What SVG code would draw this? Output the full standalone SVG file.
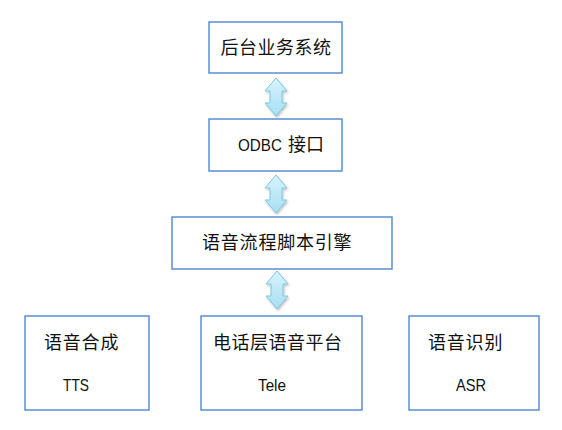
<svg xmlns="http://www.w3.org/2000/svg" width="562" height="430" viewBox="0 0 562 430">
<defs>
<linearGradient id="ag" x1="0" y1="0" x2="0" y2="1">
<stop offset="0" stop-color="#d8f4fd"/>
<stop offset="1" stop-color="#a6def3"/>
</linearGradient>
<filter id="sh" x="-30%" y="-30%" width="160%" height="160%">
<feDropShadow dx="1" dy="1.5" stdDeviation="1" flood-color="#000" flood-opacity="0.25"/>
</filter>
<path id="arr" d="M0,0 L11,13 L6,13 L6,25 L11,25 L0,38 L-11,25 L-6,25 L-6,13 L-11,13 Z"/>
</defs>
<style>
rect.box{fill:#fff;stroke:#5a8ed4;stroke-width:1.5}
text{font-family:"Liberation Sans","Noto Sans CJK SC",sans-serif;font-size:18px;fill:#111}
.lat{font-size:17px}
.a{fill:url(#ag);stroke:#7cc6e2;stroke-width:1;filter:url(#sh)}
</style>
<rect width="562" height="430" fill="#fff"/>
<g id="connectors">
<use href="#arr" class="a" x="276" y="78"/>
<use href="#arr" class="a" x="276" y="175"/>
<use href="#arr" class="a" x="277" y="271"/>
</g>
<g id="n1"><rect class="box" x="209" y="22" width="133" height="51"/><text x="276" y="54" text-anchor="middle" letter-spacing="0.5">后台业务系统</text></g>
<g id="n2"><rect class="box" x="209" y="119" width="133" height="52"/><text x="238" y="151"><tspan class="lat" textLength="44" lengthAdjust="spacingAndGlyphs">ODBC</tspan> <tspan x="288">接口</tspan></text></g>
<g id="n3"><rect class="box" x="172" y="217" width="220" height="52"/><text x="202" y="249" letter-spacing="0.8">语音流程脚本引擎</text></g>
<g id="n4"><rect class="box" x="25" y="316" width="124" height="94"/><text x="44" y="349" letter-spacing="0.8">语音合成</text><text class="lat" x="63" y="391" textLength="26" lengthAdjust="spacingAndGlyphs">TTS</text></g>
<g id="n5"><rect class="box" x="201" y="316" width="161" height="94"/><text x="213" y="349" letter-spacing="0.5">电话层语音平台</text><text class="lat" x="258" y="391" textLength="28" lengthAdjust="spacingAndGlyphs">Tele</text></g>
<g id="n6"><rect class="box" x="409" y="316" width="130" height="94"/><text x="428" y="349" letter-spacing="0.8">语音识别</text><text class="lat" x="456" y="391" textLength="30" lengthAdjust="spacingAndGlyphs">ASR</text></g>
</svg>
